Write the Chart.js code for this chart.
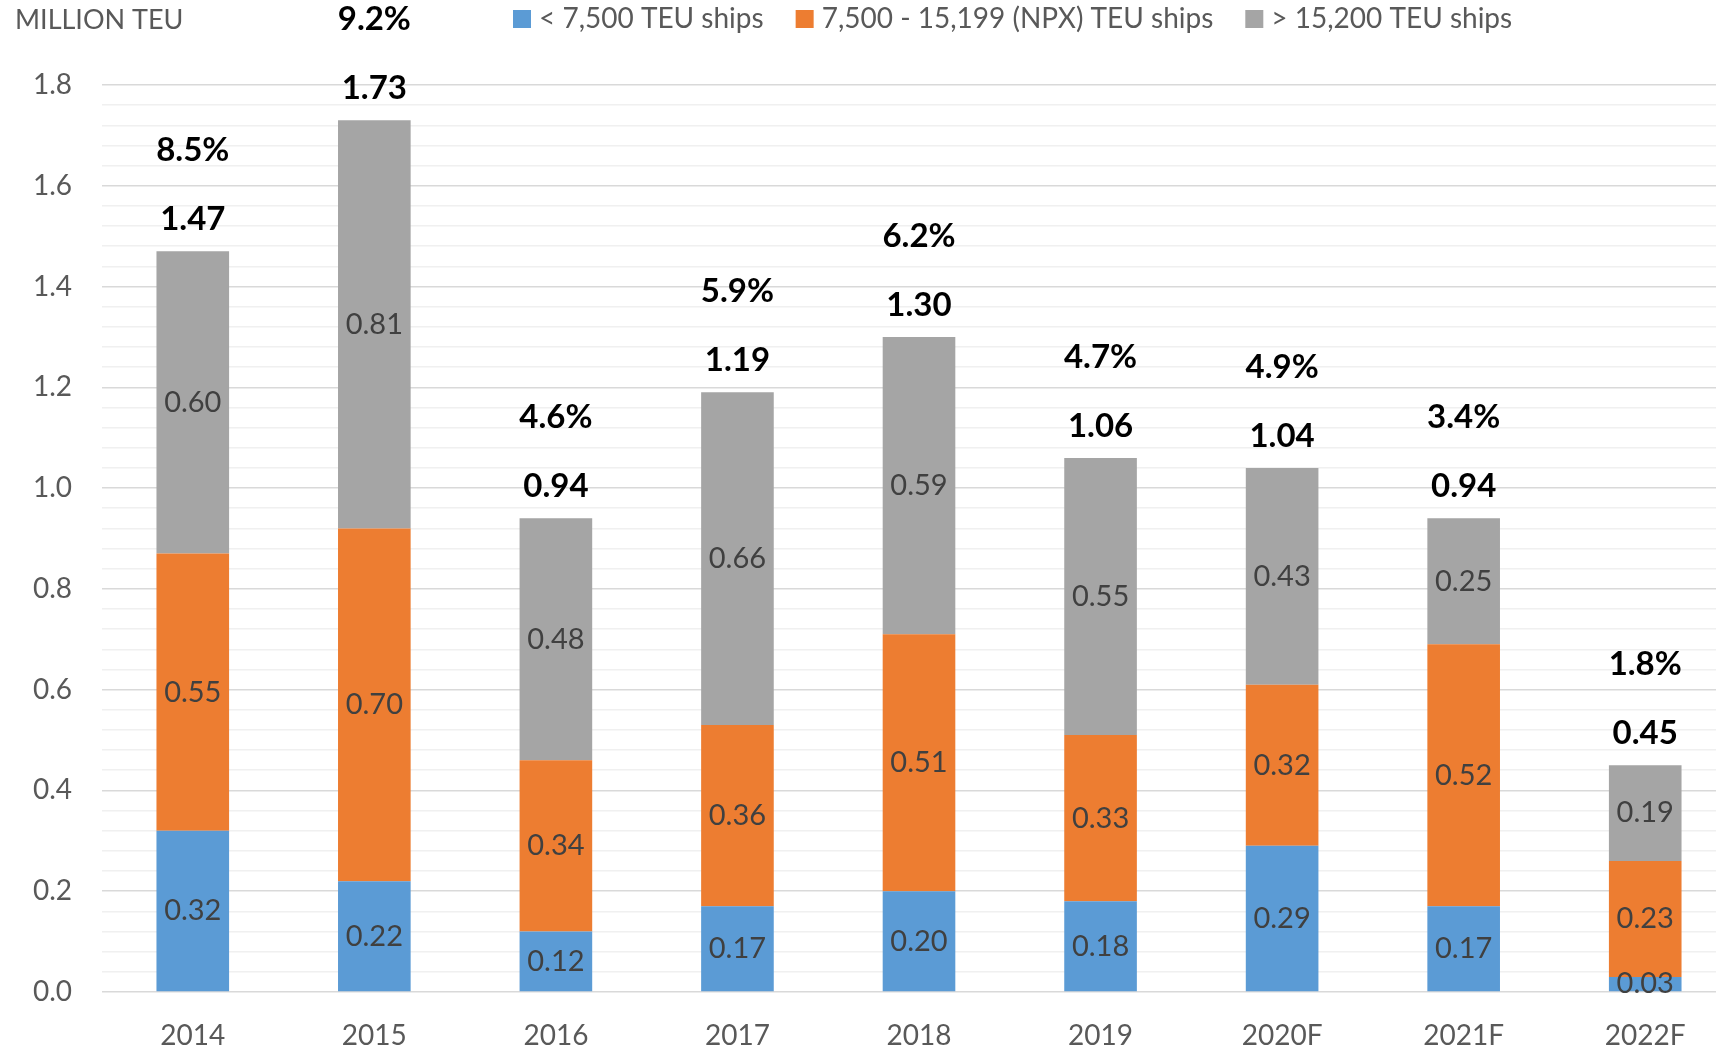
<!DOCTYPE html>
<html>
<head>
<meta charset="utf-8">
<script src="https://cdn.jsdelivr.net/npm/chart.js@4"></script>
<style>
  html, body { margin: 0; padding: 0; background: #fff; overflow: hidden; }
  #wrap { width: 1716px; height: 1048px; overflow: hidden; }
</style>
</head>
<body>
<div id="wrap"><canvas id="chart" width="1736" height="1048"></canvas></div>
<script>
const years = ['2014', '2015', '2016', '2017', '2018', '2019', '2020F', '2021F', '2022F'];
const smallShips = [0.32, 0.22, 0.12, 0.17, 0.20, 0.18, 0.29, 0.17, 0.03];
const npxShips = [0.55, 0.70, 0.34, 0.36, 0.51, 0.33, 0.32, 0.52, 0.23];
const largeShips = [0.60, 0.81, 0.48, 0.66, 0.59, 0.55, 0.43, 0.25, 0.19];
const totals = [1.47, 1.73, 0.94, 1.19, 1.30, 1.06, 1.04, 0.94, 0.45];
const growth = ['8.5%', '9.2%', '4.6%', '5.9%', '6.2%', '4.7%', '4.9%', '3.4%', '1.8%'];
const seriesNames = ['< 7,500 TEU ships', '7,500 - 15,199 (NPX) TEU ships', '> 15,200 TEU ships'];

const FONT = 'Lato, "Open Sans", sans-serif';

const isMajor = v => Math.abs(v * 5 - Math.round(v * 5)) < 1e-6;

// segment values, totals, growth, legend and unit title
const labelsPlugin = {
    id: 'labels',
    afterDatasetsDraw(chart) {
        const ctx = chart.ctx;
        ctx.save();
        ctx.textAlign = 'center';
        ctx.textBaseline = 'middle';
        ctx.font = '29px ' + FONT;
        ctx.fillStyle = '#404040';
        chart.data.datasets.forEach((ds, i) => {
            const meta = chart.getDatasetMeta(i);
            meta.data.forEach((bar, j) => {
                const p = bar.getProps(['x', 'y', 'base'], true);
                ctx.fillText(ds.data[j].toFixed(2), p.x, (p.y + p.base) / 2);
            });
        });

        const top = chart.getDatasetMeta(chart.data.datasets.length - 1);
        ctx.font = 'bold 33px ' + FONT;
        ctx.fillStyle = '#000';
        top.data.forEach((bar, j) => {
            const p = bar.getProps(['x', 'y'], true);
            ctx.fillText(totals[j].toFixed(2), p.x, p.y - 32);
            ctx.fillText(growth[j], p.x, p.y - 101);
        });

        // legend
        ctx.textAlign = 'left';
        ctx.font = '28px ' + FONT;
        let x = 513;
        chart.data.datasets.forEach(ds => {
            ctx.fillStyle = ds.backgroundColor;
            ctx.fillRect(x, 10, 18, 18);
            ctx.fillStyle = '#595959';
            ctx.fillText(ds.label, x + 26, 19);
            x += 26 + ctx.measureText(ds.label).width + 32;
        });

        ctx.fillStyle = '#595959';
        ctx.font = '27px ' + FONT;
        ctx.fillText('MILLION TEU', 15, 20);
        ctx.restore();
    }
};

new Chart(document.getElementById('chart'), {
    type: 'bar',
    data: {
        labels: years,
        datasets: [
            { label: seriesNames[0], data: smallShips, backgroundColor: '#5b9bd5' },
            { label: seriesNames[1], data: npxShips, backgroundColor: '#ed7d31' },
            { label: seriesNames[2], data: largeShips, backgroundColor: '#a5a5a5' },
        ],
    },
    options: {
        responsive: false,
        animation: false,
        layout: { padding: { top: 85, left: 0, right: 0, bottom: 0 } },
        datasets: {
            bar: { barPercentage: 0.4, categoryPercentage: 1 },
        },
        plugins: {
            legend: { display: false },
            tooltip: { enabled: false },
        },
        scales: {
            x: {
                stacked: true,
                grid: { display: false },
                border: { display: false },
                ticks: {
                    color: '#595959',
                    font: { family: FONT, size: 28 },
                    padding: 19,
                    maxRotation: 0,
                },
                afterFit(scale) { scale.height = 56; },
            },
            y: {
                stacked: true,
                min: 0,
                max: 1.8,
                border: { display: false },
                grid: {
                    drawTicks: false,
                    color: c => isMajor(c.tick.value) ? '#d9d9d9' : '#f0f0f0',
                    lineWidth: 1.6,
                },
                ticks: {
                    stepSize: 0.04,
                    autoSkip: false,
                    padding: 30,
                    color: '#595959',
                    font: { family: FONT, size: 28 },
                    callback: v => isMajor(v) ? v.toFixed(1) : '',
                },
                afterFit(scale) { scale.width = 102; },
            },
        },
    },
    plugins: [labelsPlugin],
});
</script>
</body>
</html>
